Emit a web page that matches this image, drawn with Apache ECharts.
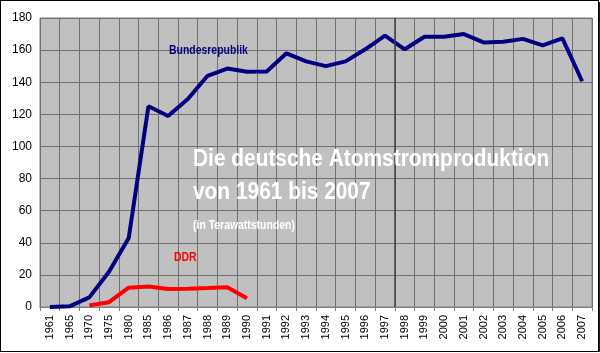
<!DOCTYPE html>
<html>
<head>
<meta charset="utf-8">
<script src="https://cdn.jsdelivr.net/npm/echarts@6/dist/echarts.min.js"></script>
<style>
  html, body { margin: 0; padding: 0; background: #fff; }
  #chart {
    width: 597px;
    height: 350px;
    border: 1px solid #000;
    box-shadow: 2px 2px 0 #222;
  }
</style>
</head>
<body>
<div id="chart"></div>
<script>
const years = [
  "1961", "1965", "1970", "1975", "1980", "1985", "1986", "1987", "1988",
  "1989", "1990", "1991", "1992", "1993", "1994", "1995", "1996", "1997",
  "1998", "1999", "2000", "2001", "2002", "2003", "2004", "2005", "2006", "2007",
];
const brd = [
  0, 0.4, 6, 22, 43, 125, 119, 129.5, 144, 148.5, 146.5, 146.7, 158, 153,
  150, 153, 160.5, 169, 160.5, 168.3, 168.3, 170, 164.8, 165.2, 167, 163,
  167.3, 140.6,
];
const ddr = [
  null, null, 1, 3, 12, 12.8, 11.2, 11.4, 11.8, 12.3, 5.5,
];

const chart = echarts.init(document.getElementById("chart"));

const font = '"Liberation Sans", Arial, sans-serif';

// Text etwas schmaler machen (Arial Narrow gibt es hier nicht)
function label(text, x, y, size, color) {
  return {
    type: "text",
    z: 100,
    position: [x, y],
    scaleX: 0.87,
    style: {
      text: text,
      x: 0,
      y: 0,
      fill: color,
      font: "bold " + size + "px " + font,
      textVerticalAlign: "top",
    },
  };
}

const option = {
  animation: false,
  backgroundColor: "#fff",
  grid: {
    left: 39,
    right: 6,
    top: 17,
    bottom: 44,
    show: true,
    backgroundColor: "#c0c0c0",
    borderColor: "#808080",
    borderWidth: 1,
  },
  xAxis: [
    {
      type: "category",
      data: years,
      boundaryGap: true,
      axisLine: { lineStyle: { color: "#808080" } },
      axisTick: { show: true, length: 4, lineStyle: { color: "#808080" } },
      splitLine: { show: true, lineStyle: { color: "#707070", width: 1 } },
      axisLabel: {
        rotate: 90,
        interval: 0,
        color: "#000",
        fontSize: 11,
        fontFamily: font,
        margin: 8,
      },
    },
    {
      // unsichtbare Hilfsachse für die dunkle Linie zwischen 1997 und 1998
      type: "value",
      min: 0,
      max: years.length,
      show: false,
    },
  ],
  yAxis: {
    type: "value",
    min: 0,
    max: 180,
    interval: 20,
    axisLine: { show: false },
    axisTick: { show: false },
    splitLine: { lineStyle: { color: "#707070", width: 1 } },
    axisLabel: {
      color: "#000",
      fontSize: 12,
      fontFamily: font,
      margin: 8,
    },
  },
  series: [
    {
      name: "Bundesrepublik",
      type: "line",
      data: brd,
      showSymbol: false,
      lineStyle: { color: "#000080", width: 4 },
    },
    {
      name: "DDR",
      type: "line",
      data: ddr,
      showSymbol: false,
      lineStyle: { color: "#ff0000", width: 4 },
    },
    {
      type: "line",
      xAxisIndex: 1,
      data: [],
      markLine: {
        silent: true,
        symbol: "none",
        label: { show: false },
        lineStyle: { color: "#404040", width: 1.5, type: "solid" },
        data: [{ xAxis: 18 }],
      },
    },
  ],
  graphic: [
    label("Bundesrepublik", 168, 44, 12, "#000080"),
    label("DDR", 173, 251, 12, "#ff0000"),
    label("Die deutsche Atomstromproduktion", 192, 146, 24, "#fff"),
    label("von 1961 bis 2007", 192, 179, 24, "#fff"),
    label("(in Terawattstunden)", 192, 219, 12, "#fff"),
  ],
};

chart.setOption(option);
window.addEventListener("resize", () => {
  chart.resize();
});
</script>
</body>
</html>
